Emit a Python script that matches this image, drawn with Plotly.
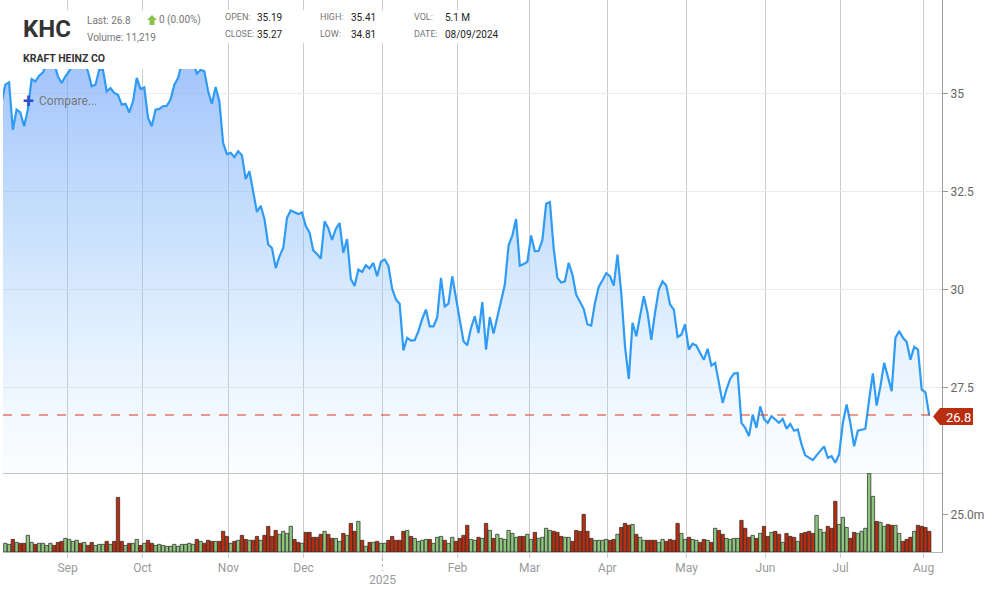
import plotly.graph_objects as go
from plotly.subplots import make_subplots

W, H = 985, 591

# daily close, one session before the first volume bar is clipped off the left edge
close = [
    34.76, 35.23, 35.29, 34.08, 34.59, 34.52, 34.17, 34.59, 35.37, 35.31, 35.46, 35.54, 35.74, 35.78, 35.78,
    35.44, 35.27, 35.44, 35.57, 35.74, 35.78, 35.82, 35.78, 35.57, 35.19, 35.23, 35.61, 35.61, 35.06, 35.14,
    35.02, 34.97, 34.72, 34.74, 34.52, 34.80, 35.40, 35.12, 35.16, 34.38, 34.17, 34.59, 34.61, 34.68, 34.69,
    34.85, 35.23, 35.40, 35.78, 35.95, 35.99, 35.82, 35.51, 35.61, 35.57, 35.06, 34.74, 35.17, 34.80, 33.74,
    33.46, 33.49, 33.38, 33.53, 33.43, 32.82, 33.02, 32.51, 31.98, 32.14, 31.80, 31.15, 31.06, 30.55, 30.85,
    31.06, 31.83, 32.02, 31.97, 31.93, 31.97, 31.62, 31.46, 31.00, 30.91, 30.79, 31.74, 31.57,
    31.27, 31.55, 31.70, 30.94, 31.29, 30.27, 30.09, 30.51, 30.45, 30.62, 30.54, 30.68, 30.34, 30.71, 30.77,
    30.61, 30.02, 29.75, 29.64, 28.45, 28.77, 28.70, 28.71, 28.94, 29.25, 29.49, 29.06, 29.06, 29.29, 30.30,
    29.57, 29.64, 30.34, 29.83, 29.23, 28.68, 28.58, 29.02, 29.32, 28.89, 29.68, 28.47, 29.30, 28.88, 29.28,
    29.75, 30.13, 31.13, 31.38, 31.80, 30.61, 30.65, 30.71, 31.38, 30.98, 30.99, 31.26, 32.19, 32.23, 31.06,
    30.30, 30.18, 30.21, 30.68, 30.38, 29.87, 29.70, 29.51, 29.11, 29.08, 29.66, 30.07, 30.24, 30.42, 30.34,
    30.10, 30.89, 29.91, 28.55, 27.72, 29.15, 28.81, 29.32, 29.83, 29.41, 28.72, 29.41, 30.00,
    30.21, 30.10, 29.62, 29.49, 28.79, 28.85, 29.11, 28.47, 28.62, 28.57, 28.38, 28.21, 28.49, 28.06, 28.13,
    27.62, 27.11, 27.45, 27.72, 27.86, 27.87, 26.60, 26.47, 26.26, 26.81, 26.47, 27.02, 26.70, 26.60, 26.77,
    26.68, 26.60, 26.70, 26.45, 26.57, 26.40, 26.43, 26.05, 25.77, 25.72, 25.65, 25.77, 25.90, 26.00, 25.71,
    25.75, 25.58, 25.79, 26.60, 27.07, 26.60, 26.00, 26.40, 26.43, 26.45, 27.19, 27.86, 27.04, 27.53, 28.13,
    27.79, 27.41, 28.77, 28.94, 28.77, 28.66, 28.21, 28.54, 28.47, 27.45, 27.38, 26.79,
]

# millions of shares
volume = [
    5.8, 5.1, 8.4, 6.4, 5.8, 5.8, 11.1, 6.4, 5.1, 5.8,
    5.8, 4.4, 5.8, 4.4, 6.4, 7.1, 9.1, 8.4, 7.1, 7.8,
    5.8, 6.4, 4.4, 6.4, 4.4, 5.1, 5.1, 7.1, 5.1, 7.1,
    36.4, 7.1, 4.4, 5.8, 5.8, 8.4, 4.4, 5.8, 7.8, 5.8,
    4.4, 5.1, 4.4, 3.8, 3.8, 5.1, 3.8, 5.1, 5.1, 5.8,
    5.1, 8.4, 7.1, 5.8, 7.8, 7.1, 7.1, 7.1, 13.8, 10.4,
    5.8, 7.1, 7.8, 11.1, 8.4, 7.8, 7.8, 10.4, 7.8, 11.1,
    17.1, 10.4, 14.4, 11.8, 13.8, 12.4, 17.1, 8.4, 6.4, 5.8,
    13.1, 13.1, 9.8, 9.8, 11.8, 13.8, 11.8,
    9.1, 9.1, 7.1, 12.4, 11.1, 19.1, 13.8, 20.4, 7.8, 3.8,
    6.4, 6.4, 7.1, 5.8, 5.8, 7.8, 10.4, 7.8, 7.8, 13.8,
    14.4, 10.4, 9.1, 7.1, 7.8, 8.4, 8.4, 5.8, 9.8, 10.4,
    7.8, 5.8, 9.8, 7.1, 9.1, 11.1, 17.8, 8.4, 7.8, 9.8,
    9.1, 19.1, 14.4, 9.1, 11.8, 9.1, 8.4, 14.4, 12.4, 9.8,
    10.4, 10.4, 11.8, 8.4, 13.1, 9.1, 9.8, 15.8, 14.4, 13.8,
    13.1, 10.4, 9.8, 9.8, 7.1, 14.4, 13.8, 25.1, 13.8, 9.1,
    7.8, 7.8, 7.8, 8.4, 7.8, 8.4, 11.8, 16.4, 19.1, 17.8,
    18.4, 11.8, 9.8, 7.8, 7.8, 7.8, 7.8, 6.4,
    8.4, 7.1, 8.4, 7.8, 19.1, 12.4, 8.4, 9.8, 8.4, 7.8,
    6.4, 8.4, 7.8, 6.4, 15.8, 14.4, 11.8, 9.1, 8.4, 9.1,
    9.1, 21.1, 15.8, 9.8, 11.1, 9.1, 12.4, 17.1, 10.4, 13.1,
    13.8, 11.8, 6.4, 12.4, 10.4, 9.8, 7.1, 12.4, 13.1, 13.8,
    12.4, 24.4, 15.1, 13.1, 17.1, 15.8, 33.8, 18.4, 23.1, 16.4,
    9.1, 13.1, 12.4, 13.8, 15.8, 52.4, 37.1, 20.4, 19.8, 17.1,
    18.4, 17.8, 17.8, 12.4, 7.1, 8.4, 9.8, 13.8, 17.8, 17.1,
    16.4, 13.8,
]

# g = up day, r = down day, same order as volume
vol_dir = (
    "ggrgrrggrg" "gggrrrgggg" "rgrrgggrgr" "rrgrggrgrr" "gggggggggg"
    "grgrrrgrrr" "grgrrgrrgr" "rrrggggrrg" "rrrrrgr"
    "rggrgrrgrg" "rgrggrrrrr" "grggggrggg" "rggrrrrggr" "grgrgggggg"
    "rrggrggggr" "rrggrrrrrr" "ggggrrgrrr" "grggrrrg"
    "grrrrggrgg" "rrgrgrrggg" "grrrgrgrrg" "rrgrrrgrrr" "rgggrrrggg"
    "rrgggggrgg" "rrggrrrgrr" "rr"
)

month_pos = [17.56, 37.5, 60.4, 80.4, 101.4, 121.4, 140.6, 161.3, 182.4, 203.4, 223.4, 245.5]
month_labels = ["Sep", "Oct", "Nov", "Dec", " ", "Feb", "Mar", "Apr", "May", "Jun", "Jul", "Aug"]
price_ticks = [27.5, 30, 32.5, 35]
price_labels = ["27.5", "30", "32.5", "35"]
last_price = 26.8

FONT = "Roboto"
RED = "#BA2E10"
GREEN = "#8FC67E"


def px(x):
    return x / W


def py(y):
    return 1 - y / H


def text(x, y, s, size=10, color="#777777", bold=False, anchor="left"):
    fig.add_annotation(
        xref="paper", yref="paper", x=px(x), y=py(y), text=f"<b>{s}</b>" if bold else s,
        showarrow=False, xanchor=anchor, yanchor="middle", align="left",
        font=dict(family=FONT, size=size, color=color), borderpad=0, borderwidth=0,
    )


fig = make_subplots(rows=2, cols=1, shared_xaxes=True)

fig.add_trace(go.Scatter(
    x=list(range(len(close))),
    y=close,
    mode="lines",
    line=dict(color="#2F9BF5", width=2.2, shape="linear"),
    fill="tozeroy",
    fillgradient=dict(
        type="vertical",
        start=25.32,
        stop=37.39,
        colorscale=[
            [0, "rgba(170,215,255,0.05)"],
            [0.5, "rgba(130,185,250,0.42)"],
            [1, "rgba(105,155,250,0.72)"],
        ],
    ),
    hoverinfo="skip",
), row=1, col=1)

fig.add_trace(go.Bar(
    x=list(range(1, len(volume) + 1)),
    y=volume,
    width=0.9,
    marker=dict(
        color=[GREEN if d == "g" else RED for d in vol_dir],
        line=dict(color="#222222", width=0.7),
    ),
    hoverinfo="skip",
), row=2, col=1)

fig.update_layout(
    width=W,
    height=H,
    autosize=False,
    margin=dict(l=0, r=0, t=0, b=0),
    showlegend=False,
    plot_bgcolor="white",
    paper_bgcolor="white",
    font=dict(family=FONT),
)

x_range = [0.386, 250.4]
fig.update_xaxes(
    range=x_range, domain=[px(3), px(942)], tickmode="array", tickvals=month_pos,
    showgrid=True, gridcolor="#CDCDCD", gridwidth=1, zeroline=False,
)
fig.update_xaxes(showticklabels=False, showline=True, linecolor="#C4C4C4", ticks="", row=1, col=1)
fig.update_xaxes(
    ticktext=month_labels, ticks="outside", ticklen=5, tickcolor="#CDCDCD",
    showline=True, linecolor="#B5B5B5",
    tickfont=dict(family=FONT, size=12, color="#9A9A9A"), row=2, col=1,
)
fig.update_yaxes(
    side="right", ticks="outside", ticklen=5, tickcolor="#999999", showline=True, linecolor="#9C9C9C",
    zeroline=False, tickfont=dict(family=FONT, size=12, color="#666666"),
)
fig.update_yaxes(
    domain=[py(473), 1], range=[25.32, 37.39], tickmode="array", tickvals=price_ticks, ticktext=price_labels,
    showgrid=True, gridcolor="#EBEBEB", row=1, col=1,
)
fig.update_yaxes(
    domain=[py(552), py(473)], range=[0, 52.67], tickmode="array", tickvals=[25], ticktext=["25.0m"],
    showgrid=False, row=2, col=1,
)

# current price line
fig.add_shape(type="line", xref="x domain", yref="y", x0=0, x1=1, y0=last_price, y1=last_price,
              line_color="#D9381E", line_width=1.2, line_dash="dash", layer="above")

# header panels sit on top of the plot
for x0, y0, x1, y1 in [(0, 10, 222, 69), (222, 10, 510, 43)]:
    fig.add_shape(type="rect", xref="paper", yref="paper", x0=px(x0), x1=px(x1), y0=py(y0), y1=py(y1),
                  fillcolor="white", line_width=0, layer="above")

# price tag on the axis
tag = [(933, 416.5), (940, 408), (973, 408), (973, 425), (940, 425)]
fig.add_shape(type="path", xref="paper", yref="paper", layer="above", fillcolor=RED, line_width=0,
              path="M " + " L ".join(f"{px(a)},{py(b)}" for a, b in tag) + " Z")
text(946, 417, "26.8", size=13, color="white")

# small up arrow next to the change
arrow = [(152, 15), (157, 20), (154.5, 20), (154.5, 25), (149.5, 25), (149.5, 20), (147, 20)]
fig.add_shape(type="path", xref="paper", yref="paper", layer="above", fillcolor="#8BC34A", line_width=0,
              path="M " + " L ".join(f"{px(a)},{py(b)}" for a, b in arrow) + " Z")

# dotted tick above the year label
fig.add_shape(type="line", xref="x2", yref="paper", x0=month_pos[4], x1=month_pos[4], y0=py(558), y1=py(571),
              line=dict(color="#AAAAAA", width=1, dash="dot"))
text(382.5, 580, "2025", size=12, color="#9A9A9A", anchor="center")

text(23, 29, "KHC", size=24, color="#333333", bold=True)
text(87, 20, "Last: 26.8", size=10)
text(159, 20, "0 (0.00%)", size=10)
text(87, 37, "Volume: 11,219", size=10)
text(23, 58, "KRAFT HEINZ CO", size=10.5, color="#333333", bold=True)

text(225, 17, "OPEN:", size=9)
text(225, 34, "CLOSE:", size=9)
text(257, 17, "35.19", size=10, color="#222222")
text(257, 34, "35.27", size=10, color="#222222")
text(320, 17, "HIGH:", size=9)
text(320, 34, "LOW:", size=9)
text(351, 17, "35.41", size=10, color="#222222")
text(351, 34, "34.81", size=10, color="#222222")
text(414, 17, "VOL:", size=9)
text(414, 34, "DATE:", size=9)
text(445, 17, "5.1 M", size=10, color="#222222")
text(445, 34, "08/09/2024", size=10, color="#222222")

text(28, 101, "+", size=20, color="#2A52C4", bold=True, anchor="center")
text(39, 101, "Compare...", size=12, color="#777777")

fig.write_html("out.html", post_script="document.body.style.margin='0';", config=dict(displayModeBar=False))
